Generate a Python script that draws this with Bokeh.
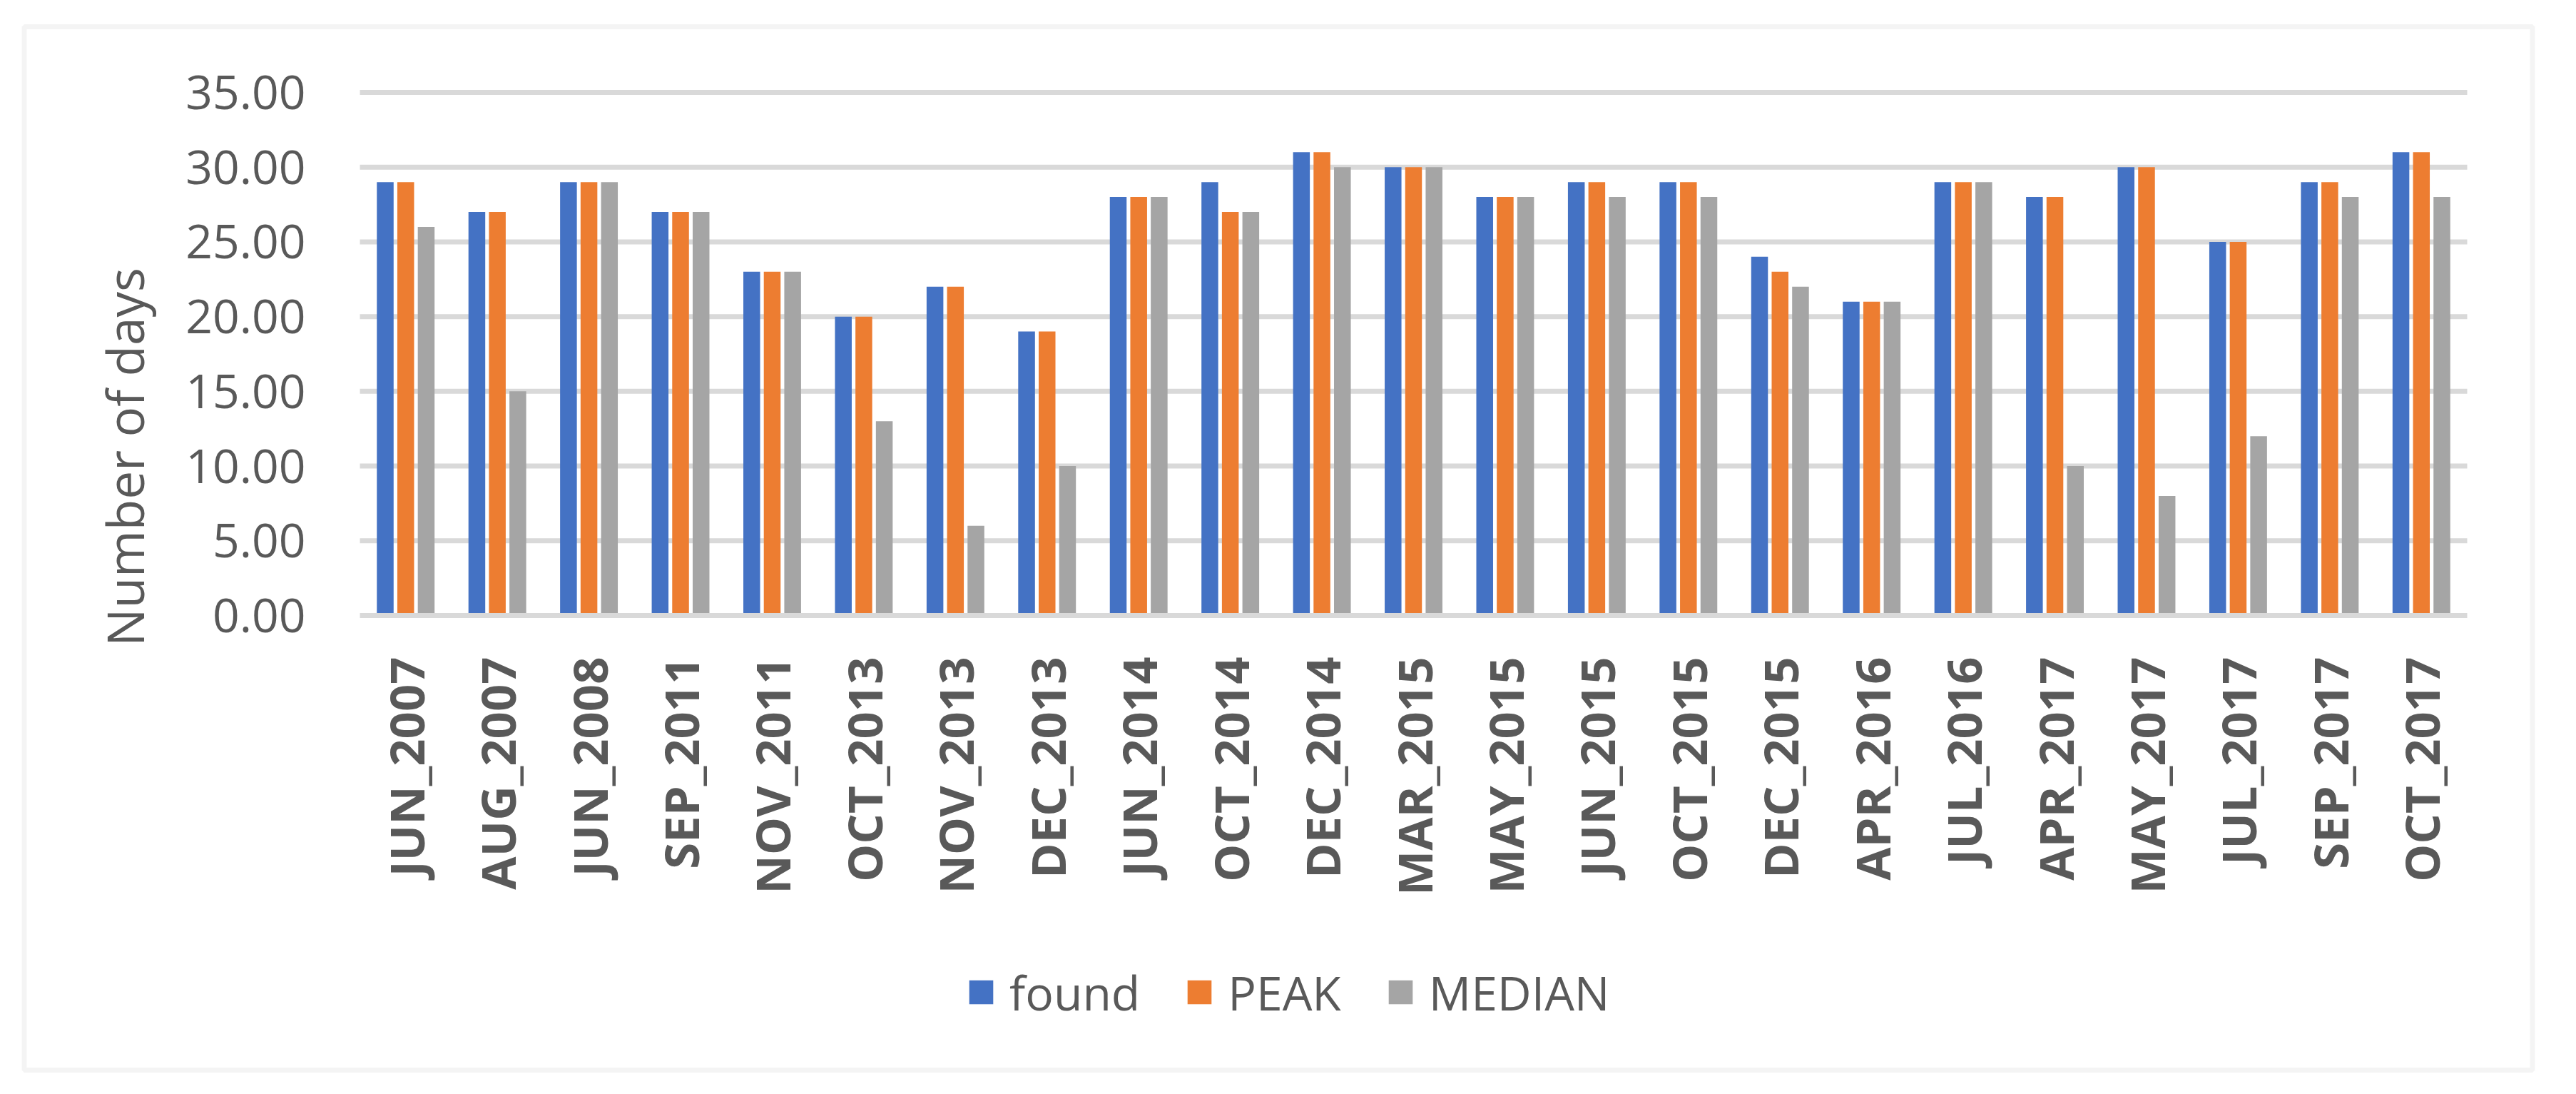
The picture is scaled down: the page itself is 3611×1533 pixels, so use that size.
from math import pi
from bokeh.plotting import figure
from bokeh.models import (ColumnDataSource, Range1d, Legend, LegendItem, LinearAxis,
                          NumeralTickFormatter, SingleIntervalTicker, FixedTicker,
                          Label, BoxAnnotation)
from bokeh.transform import dodge
from bokeh.embed import file_html
from bokeh.resources import INLINE

# ---- data ----
months = ["JUN_2007", "AUG_2007", "JUN_2008", "SEP_2011", "NOV_2011", "OCT_2013",
          "NOV_2013", "DEC_2013", "JUN_2014", "OCT_2014", "DEC_2014", "MAR_2015",
          "MAY_2015", "JUN_2015", "OCT_2015", "DEC_2015", "APR_2016", "JUL_2016",
          "APR_2017", "MAY_2017", "JUL_2017", "SEP_2017", "OCT_2017"]
found = [29, 27, 29, 27, 23, 20, 22, 19, 28, 29, 31, 30, 28, 29, 29, 24, 21, 29, 28, 30, 25, 29, 31]
peak = [29, 27, 29, 27, 23, 20, 22, 19, 28, 27, 31, 30, 28, 29, 29, 23, 21, 29, 28, 30, 25, 29, 31]
median = [26, 15, 29, 27, 23, 13, 6, 10, 28, 27, 30, 30, 28, 28, 28, 22, 21, 29, 10, 8, 12, 28, 28]
series_names = ["found", "PEAK", "MEDIAN"]
series_colors = ["#4472C4", "#ED7D31", "#A5A5A5"]
y_title = "Number of days"
y_max = 35
y_step = 5

# ---- layout (canvas pixels) ----
W, H = 3595, 1517
PL, PR, PT, PB = 504, 3458, 129, 862      # plot area: left, right, y of top tick, y of zero
N = len(months)
xu = (PR - PL) / N                         # px per category
yu = (PB - PT) / y_max                     # px per unit
TEXT = "#595959"
GRID = "#D9D9D9"
FONT = "Open Sans"


def dx(cx):
    return (cx - PL) / xu


def dy(cy):
    return (PB - cy) / yu


p = figure(x_range=Range1d(dx(0), dx(W)), y_range=Range1d(dy(H), dy(0)),
           width=W, height=H, output_backend="svg", toolbar_location=None,
           x_axis_location=None, y_axis_location=None,
           min_border=0, min_border_left=0, min_border_right=0,
           min_border_top=0, min_border_bottom=0)
p.outline_line_color = None
p.background_fill_color = "white"
p.border_fill_color = "white"
p.grid.visible = False

# gridlines (plot area only)
grid_vals = list(range(y_step, y_max + 1, y_step))
p.segment(x0=[0] * len(grid_vals), x1=[N] * len(grid_vals), y0=grid_vals, y1=grid_vals,
          line_color=GRID, line_width=7)

# bars
src = ColumnDataSource(dict(xc=[i + 0.5 for i in range(N)], m=months,
                            found=found, peak=peak, median=median))
offsets = [-0.2235, 0.0, 0.2235]
renderers = []
for col, off, colr in zip(["found", "peak", "median"], offsets, series_colors):
    r = p.vbar(x=dodge("xc", off), top=col, bottom=0, width=0.183,
               source=src, fill_color=colr, line_color=None)
    renderers.append(r)

# y axis
yax = LinearAxis(fixed_location=0, bounds=(0, y_max),
                 ticker=SingleIntervalTicker(interval=y_step),
                 formatter=NumeralTickFormatter(format="0.00"))
yax.axis_line_color = None
yax.major_tick_line_color = None
yax.minor_tick_line_color = None
yax.major_label_standoff = 70
yax.major_label_text_font = FONT
yax.major_label_text_font_size = "66px"
yax.major_label_text_color = TEXT
p.add_layout(yax, "left")

# x axis (categories)
xax = LinearAxis(fixed_location=0, bounds=(0, N),
                 ticker=FixedTicker(ticks=[i + 0.5 for i in range(N)]),
                 major_label_overrides={i + 0.5: m for i, m in enumerate(months)})
xax.axis_line_color = GRID
xax.axis_line_width = 7
xax.major_tick_line_color = None
xax.minor_tick_line_color = None
xax.major_label_orientation = pi / 2
xax.major_label_standoff = 52
xax.major_label_text_font = FONT
xax.major_label_text_font_style = "bold"
xax.major_label_text_font_size = "67px"
xax.major_label_text_color = TEXT
p.add_layout(xax, "below")

# y-axis title
p.add_layout(Label(x=dx(174), y=dy(640), text=y_title, angle=pi / 2,
                   text_align="center", text_baseline="middle",
                   text_font=FONT, text_font_size="71px", text_color=TEXT))

# chart border
p.add_layout(BoxAnnotation(left=dx(33.5), right=dx(3549.5), top=dy(37), bottom=dy(1499),
                           fill_alpha=0, line_color=GRID, line_width=7))

# legend
legend = Legend(items=[LegendItem(label=n, renderers=[r]) for n, r in zip(series_names, renderers)],
                orientation="horizontal", location=(1354, 82),
                glyph_width=42, glyph_height=42, label_standoff=19, spacing=62,
                padding=0, margin=0, border_line_color=None, background_fill_alpha=0,
                label_text_font=FONT, label_text_font_size="66px", label_text_color=TEXT)
p.add_layout(legend, "center")

open("out.html", "w").write(file_html(p, INLINE))
